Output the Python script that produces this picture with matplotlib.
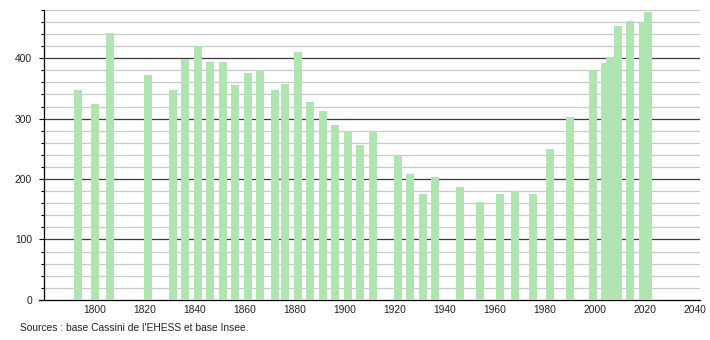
#import libraries
import matplotlib
matplotlib.use("Agg")
import matplotlib.pyplot as plt
from matplotlib.ticker import MultipleLocator

#census years
years = [1793, 1800, 1806, 1821, 1831, 1836, 1841, 1846, 1851, 1856,
         1861, 1866, 1872, 1876, 1881, 1886, 1891, 1896, 1901, 1906,
         1911, 1921, 1926, 1931, 1936, 1946, 1954, 1962, 1968, 1975,
         1982, 1990, 1999, 2004, 2006, 2009, 2014, 2019, 2021]

#population
population = [347, 325, 441, 373, 347, 399, 421, 394, 394, 356,
              376, 381, 348, 358, 411, 328, 313, 290, 280, 256,
              280, 240, 209, 175, 204, 186, 162, 176, 181, 176,
              249, 303, 380, 392, 402, 454, 461, 459, 477]

x_ticks = [1800, 1820, 1840, 1860, 1880, 1900, 1920, 1940, 1960, 1980, 2000, 2020, 2040]
source_text = "Sources : base Cassini de l'EHESS et base Insee."

plt.rcParams['font.family'] = ['Liberation Sans', 'DejaVu Sans']

#set figure size
fig = plt.figure(figsize=(7.1, 3.4), dpi=100)
ax = fig.add_axes([0.062, 0.118, 0.924, 0.853])

#bars
ax.bar(years, population, width=3.2, color='#b0e4b0', zorder=3)

#grid lines
for v in range(20, 481, 20):
    if v % 100 == 0:
        ax.axhline(v, color='#3a3a3a', linewidth=0.9, zorder=1)
    else:
        ax.axhline(v, color='#c8c8c8', linewidth=0.9, zorder=1)

#axes limits
ax.set_xlim(1779.6, 2042)
ax.set_ylim(0, 480)

#y axis ticks
ax.yaxis.set_major_locator(MultipleLocator(100))
ax.yaxis.set_minor_locator(MultipleLocator(20))
ax.tick_params(axis='y', which='major', length=3.6, width=0.8, pad=5, labelsize=7.4, labelcolor='#222222')
ax.tick_params(axis='y', which='minor', length=2.2, width=0.8)

#x axis ticks
ax.set_xticks(x_ticks)
ax.tick_params(axis='x', which='both', length=0, pad=4, labelsize=7.4, labelcolor='#222222')

#spines
ax.spines['top'].set_visible(False)
ax.spines['right'].set_visible(False)
ax.spines['left'].set_linewidth(0.9)
ax.spines['bottom'].set_linewidth(0.9)
ax.spines['bottom'].set_bounds(1777.6, 2042)
ax.spines['bottom'].set_clip_on(False)

#sources
fig.text(20 / 710, 1 - 328 / 340, source_text, fontsize=7.4, color='#222222', va='center', ha='left')

plt.savefig('out.png', dpi=100)
